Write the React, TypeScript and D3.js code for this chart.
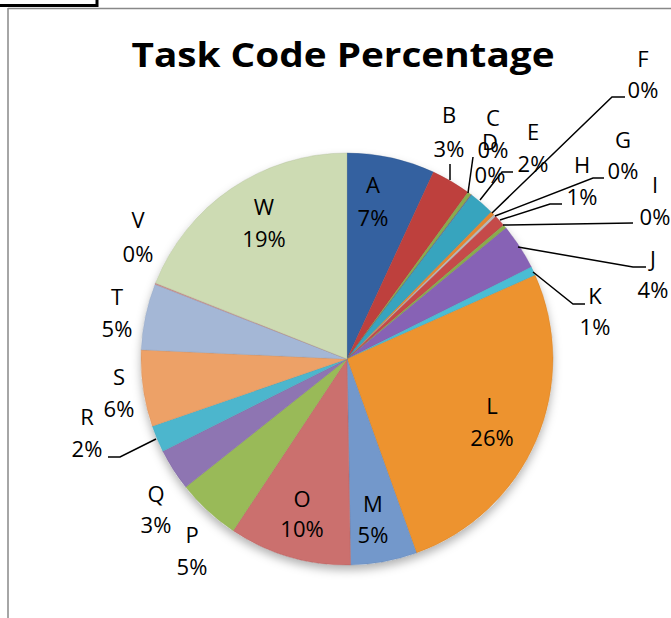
import React from "react";
import * as d3 from "d3";

// ---- data ----
const categories = ["A","B","C","D","E","F","G","H","I","J","K","L","M","O","P","Q","R","S","T","V","W"];
const values = [6.9,3.1,0.3,0.05,2.0,0.3,0.2,0.9,0.3,3.6,0.7,26.2,5.2,9.6,5.0,3.3,2.1,6.0,5.2,0.1,19.0];
const colors = ["#3868AC","#CC4542","#93B852","#7E61A0","#3BB0CC","#F59032","#C4C4C4","#D4504E","#93B852","#9169C2","#50CBE4","#FF9E33","#7BA3DA","#DA7876","#A4C85F","#987EBF","#52C3DC","#FFAD6F","#B0C4E6","#DE9C9A","#DCEBC0"];
const title = "Task Code Percentage";

// ---- label layout (x center, baseline of name, baseline of percent, leader polyline) ----
const labelX = [373,449,493,490,533,643,623,582,655,653,595,492,373,302,192,156,87,119,117,138,264];
const labelY1 = [193,123,126,150,140,67,148,173,193,267,304,414,512,507,543,502,425,385,305,228,215];
const labelY2 = [226,157,158,183,172,98,179,205,225,298,335,446,543,537,575,533,457,417,337,262,247];
const leaders: ([number, number][] | null)[] = [
  null,
  [[450,180],[450,164]],
  [[468,193],[473,157]],
  null,
  [[480,200],[502,172],[513,172]],
  [[492,213],[612,97],[625,97]],
  [[495,216],[593,178],[604,178]],
  [[500,220],[550,204],[562,204]],
  [[503,225],[633,223]],
  [[518,247],[633,267],[646,267]],
  [[533,272],[573,304],[585,304]],
  null,null,null,null,null,
  [[156,439],[120,457],[108,457]],
  null,null,null,null,
];

const W = 671, H = 618;
const cx = 347, cy = 359, R = 206;

export default function App() {
  const data = categories.map((c, i) => ({ c, v: values[i], i }));
  const total = d3.sum(values);
  const pie = d3.pie<any>().sort(null).value((d: any) => d.v);
  const arcs = pie(data);
  const arc = d3.arc<any>().innerRadius(0).outerRadius(R);
  const font = "'Open Sans', 'DejaVu Sans', sans-serif";

  return (
    <svg width={W} height={H} style={{ position: "absolute", left: 0, top: 0, background: "#fff" }}>
      <defs>
        <filter id="shadow" x="-20%" y="-20%" width="140%" height="140%">
          <feDropShadow dx="0" dy="5" stdDeviation="5" floodColor="#000" floodOpacity="0.3" />
        </filter>
        {arcs.map((a, i) => {
          const c = d3.color(colors[i])!;
          return (
            <radialGradient key={i} id={`g${i}`} gradientUnits="userSpaceOnUse" cx={cx} cy={cy} r={R}>
              <stop offset="0" stopColor={c.formatHex()} />
              <stop offset="0.89" stopColor={c.formatHex()} />
              <stop offset="0.95" stopColor={c.brighter(0.3).formatHex()} />
              <stop offset="1" stopColor={c.darker(0.2).formatHex()} />
            </radialGradient>
          );
        })}
      </defs>
      {/* frame */}
      <rect x={-10} y={-10} width={107} height={15.5} fill="none" stroke="#000" strokeWidth={3} />
      <line x1={8} y1={8.5} x2={W} y2={8.5} stroke="#888" strokeWidth={1.5} />
      <line x1={8} y1={8} x2={8} y2={H} stroke="#888" strokeWidth={1.5} />

      <text x={343} y={67} textAnchor="middle" fontFamily={font} fontWeight="bold" fontSize={34}
        textLength={423} lengthAdjust="spacingAndGlyphs" fill="#000">{title}</text>

      <g transform={`translate(${cx},${cy})`}>
        <circle r={R} fill="#fff" filter="url(#shadow)" />
        {arcs.map((a, i) => (
          <path key={i} d={arc(a) || ""} fill={`url(#g${i})`}
            stroke={d3.color(colors[i])!.darker(0.7).formatHex()} strokeWidth={0.6} strokeOpacity={0.6} />
        ))}
      </g>

      {leaders.map((pts, i) => pts ? (
        <polyline key={i} points={pts.map(p => p.join(",")).join(" ")} fill="none" stroke="#000" strokeWidth={1.5} />
      ) : null)}

      {arcs.map((a, i) => {
        const pct = Math.round((values[i] / total) * 100) + "%";
        return (
          <g key={i} fontFamily={font} fontSize={22} fill="#000" textAnchor="middle">
            <text x={labelX[i]} y={labelY1[i]}>{categories[i]}</text>
            <text x={labelX[i]} y={labelY2[i]}>{pct}</text>
          </g>
        );
      })}
    </svg>
  );
}
